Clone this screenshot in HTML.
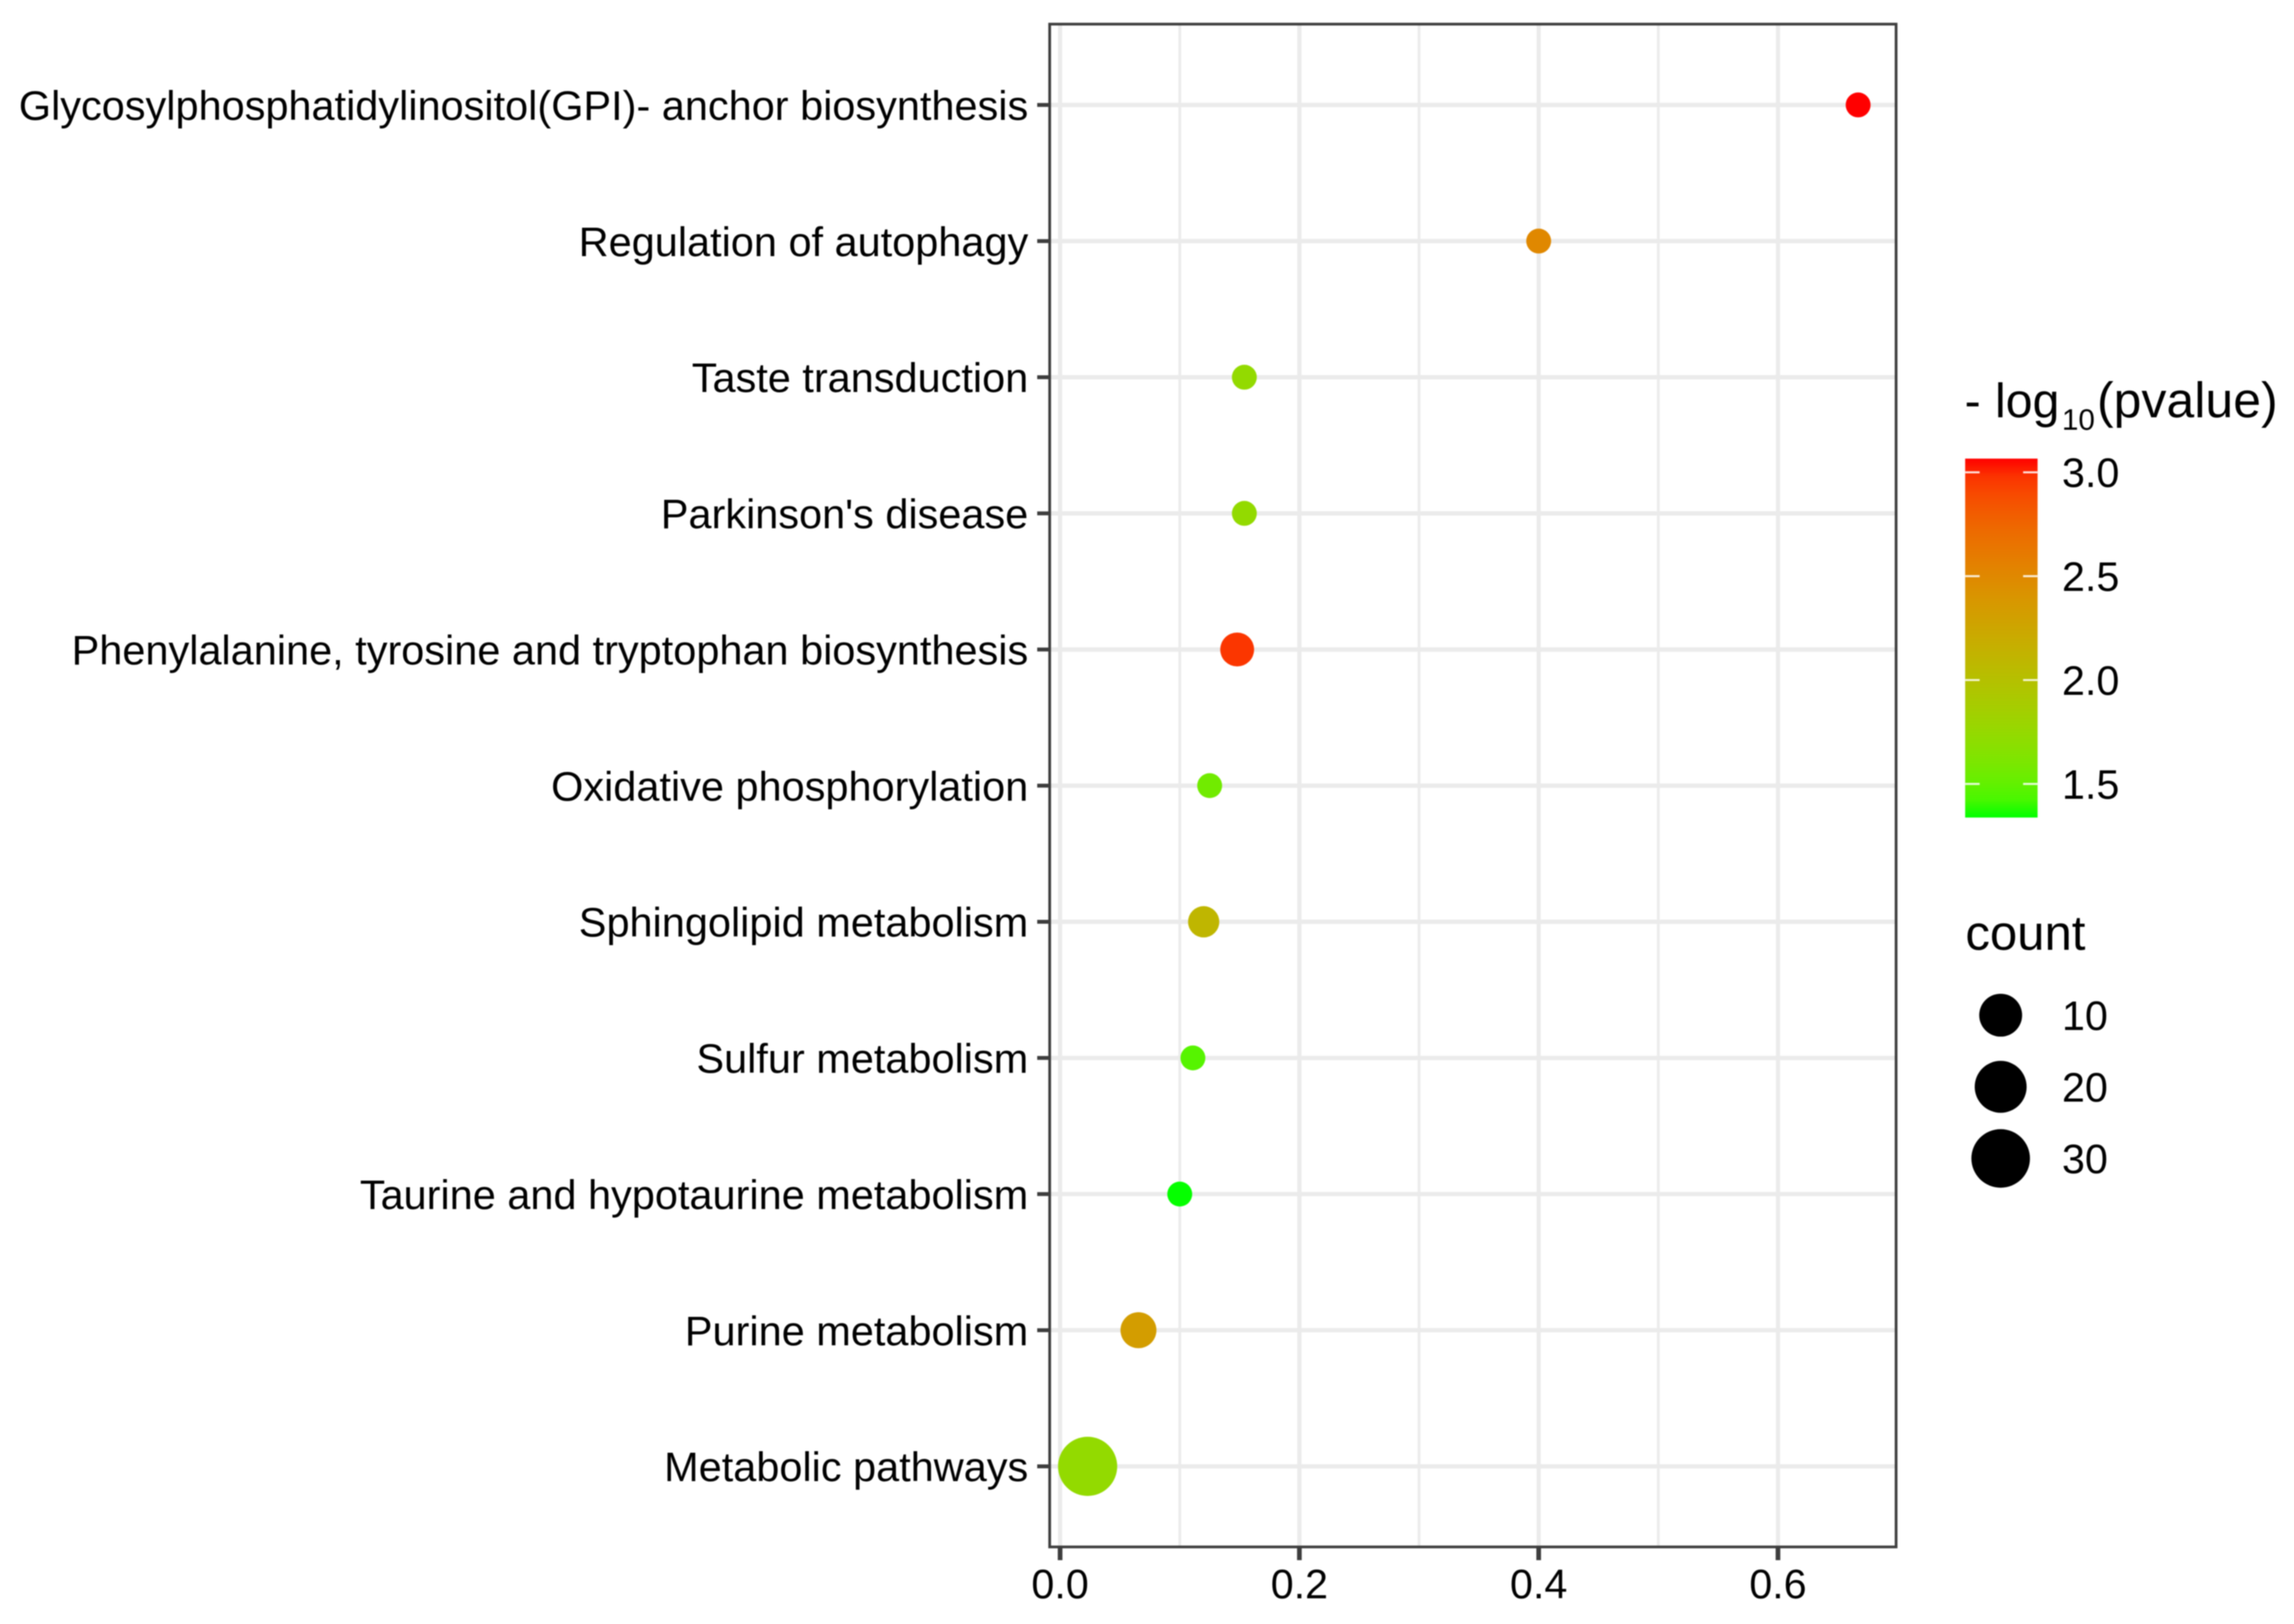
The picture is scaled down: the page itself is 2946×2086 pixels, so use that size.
<!DOCTYPE html>
<html lang="en">
<head>
<meta charset="utf-8">
<title>Pathway enrichment dot plot</title>
<style>
  html, body { margin: 0; padding: 0; background: #fff; }
  svg { display: block; filter: blur(0.7px); }
  text { font-family: "Liberation Sans", Arial, sans-serif; fill: #000; }
</style>
</head>
<body>
<svg id="chart" xmlns="http://www.w3.org/2000/svg" width="2946" height="2086" viewBox="0 0 2946 2086">
  <defs>
    <linearGradient id="cbGrad" x1="0" y1="1" x2="0" y2="0"></linearGradient>
  </defs>
  <rect x="0" y="0" width="2946" height="2086" fill="#ffffff"></rect>
  <g id="grid"></g>
  <g id="ylabels"></g>
  <g id="xlabels"></g>
  <g id="points"></g>
  <rect x="1348" y="31" width="1087" height="1956" fill="none" stroke="#3d3d3d" stroke-width="3.5"></rect>
  <g>
    <text x="2523" y="536" font-size="62">-</text>
    <text x="2562" y="536" font-size="62">log</text>
    <text x="2648" y="552" font-size="38">10</text>
    <text x="2693" y="536" font-size="64" textLength="232" lengthAdjust="spacing">(pvalue)</text>
  </g>
  <g id="colorbar"></g>
  <text x="2524" y="1220" font-size="63">count</text>
  <g id="sizelegend"></g>
</svg>
<script>
const categories = [
  "Glycosylphosphatidylinositol(GPI)- anchor biosynthesis",
  "Regulation of autophagy",
  "Taste transduction",
  "Parkinson's disease",
  "Phenylalanine, tyrosine and tryptophan biosynthesis",
  "Oxidative phosphorylation",
  "Sphingolipid metabolism",
  "Sulfur metabolism",
  "Taurine and hypotaurine metabolism",
  "Purine metabolism",
  "Metabolic pathways"
];
const ratioValues = [0.667, 0.4, 0.154, 0.154, 0.148, 0.125, 0.12, 0.111, 0.1, 0.0655, 0.023];
const countValues = [2, 2, 2, 2, 4, 2, 3, 2, 2, 5, 31];
const pvalueValues = [3.066, 2.5, 1.74, 1.74, 2.97, 1.56, 2.1, 1.46, 1.34, 2.33, 1.74];
const xMajorTicks = [0, 0.2, 0.4, 0.6];
const xMinorTicks = [0.1, 0.3, 0.5];
const xTickLabels = ["0.0", "0.2", "0.4", "0.6"];
const colorTicks = [3.0, 2.5, 2.0, 1.5];
const colorTickLabels = ["3.0", "2.5", "2.0", "1.5"];
const colorLimits = [1.338, 3.066];
const sizeLegendCounts = [10, 20, 30];
const sizeLimits = [2, 31];

const NS = "http://www.w3.org/2000/svg";
const PANEL = { left: 1348, right: 2435, top: 31, bottom: 1987 };

function xScale(v) { return 1361.4 + v * 1536.5; }
function yScale(i) { return 134.8 + i * 174.87; }
function colorAxis(v) { return 606.7 + (3 - v) * 266.8; }
function sizeScale(c) {
  const t = Math.max(0, (c - sizeLimits[0]) / (sizeLimits[1] - sizeLimits[0]));
  return 32 + 44 * Math.sqrt(t);
}

function make(tag, attrs, parent, text) {
  const el = document.createElementNS(NS, tag);
  for (const k in attrs) el.setAttribute(k, attrs[k]);
  if (text !== undefined) el.textContent = text;
  parent.appendChild(el);
  return el;
}

/* Lab interpolation green -> red, as in a ggplot gradient */
function srgbToLinear(c) { c /= 255; return c <= 0.04045 ? c / 12.92 : Math.pow((c + 0.055) / 1.055, 2.4); }
function linearToSrgb(c) {
  const v = c <= 0.0031308 ? 12.92 * c : 1.055 * Math.pow(c, 1 / 2.4) - 0.055;
  return Math.round(Math.min(1, Math.max(0, v)) * 255);
}
const WP = [0.95047, 1, 1.08883];
function rgbToLab(rgb) {
  const r = srgbToLinear(rgb[0]), g = srgbToLinear(rgb[1]), b = srgbToLinear(rgb[2]);
  const xyz = [
    (0.4124564 * r + 0.3575761 * g + 0.1804375 * b) / WP[0],
    (0.2126729 * r + 0.7151522 * g + 0.0721750 * b) / WP[1],
    (0.0193339 * r + 0.1191920 * g + 0.9503041 * b) / WP[2]
  ];
  const f = xyz.map(t => t > 0.008856 ? Math.cbrt(t) : 7.787 * t + 16 / 116);
  return [116 * f[1] - 16, 500 * (f[0] - f[1]), 200 * (f[1] - f[2])];
}
function labToRgb(lab) {
  const fy = (lab[0] + 16) / 116, fx = lab[1] / 500 + fy, fz = fy - lab[2] / 200;
  const inv = t => { const c = t * t * t; return c > 0.008856 ? c : (t - 16 / 116) / 7.787; };
  const X = inv(fx) * WP[0], Y = inv(fy) * WP[1], Z = inv(fz) * WP[2];
  return [
    linearToSrgb(3.2404542 * X - 1.5371385 * Y - 0.4985314 * Z),
    linearToSrgb(-0.969266 * X + 1.8760108 * Y + 0.041556 * Z),
    linearToSrgb(0.0556434 * X - 0.2040259 * Y + 1.0572252 * Z)
  ];
}
const LOW_LAB = rgbToLab([0, 255, 0]);
const HIGH_LAB = rgbToLab([255, 0, 0]);
function colorScale(v) {
  const t = Math.min(1, Math.max(0, (v - colorLimits[0]) / (colorLimits[1] - colorLimits[0])));
  const c = labToRgb(LOW_LAB.map((l, i) => l + (HIGH_LAB[i] - l) * t));
  return "rgb(" + c.join(",") + ")";
}

/* Grid */
const grid = document.getElementById("grid");
xMinorTicks.forEach(function (v) {
  const x = xScale(v);
  const line = make("line", { x1: x, x2: x, y1: PANEL.top, y2: PANEL.bottom, stroke: "#ececec", "stroke-width": 3.6 }, grid);
  
  
});
xMajorTicks.forEach(function (v) {
  const x = xScale(v);
  const line = make("line", { x1: x, x2: x, y1: PANEL.top, y2: PANEL.bottom, stroke: "#ebebeb", "stroke-width": 5.4 }, grid);
  
  
});
categories.forEach(function (name, i) {
  const y = yScale(i);
  const line = make("line", { x1: PANEL.left, x2: PANEL.right, y1: y, y2: y, stroke: "#ebebeb", "stroke-width": 5.6 }, grid);
  
  
});

/* Y axis */
const ylabels = document.getElementById("ylabels");
categories.forEach(function (name, i) {
  const y = yScale(i);
  const tick = make("line", { x1: 1332, x2: PANEL.left, y1: y, y2: y, stroke: "#3d3d3d", "stroke-width": 5 }, ylabels);
  
  
  const label = make("text", { x: 1320.5, y: y + 19.2, "text-anchor": "end", "font-size": 53.25 }, ylabels, name);
  
  
});

/* X axis */
const xlabels = document.getElementById("xlabels");
xMajorTicks.forEach(function (v, i) {
  const x = xScale(v);
  const tick = make("line", { x1: x, x2: x, y1: PANEL.bottom, y2: 2004, stroke: "#3d3d3d", "stroke-width": 6 }, xlabels);
  
  
  const label = make("text", { x: x, y: 2053, "text-anchor": "middle", "font-size": 53 }, xlabels, xTickLabels[i]);
  
  
});

/* Points */
const points = document.getElementById("points");
categories.forEach(function (name, i) {
  const dot = make("circle", {
    cx: xScale(ratioValues[i]),
    cy: yScale(i),
    r: sizeScale(countValues[i]) / 2,
    fill: colorScale(pvalueValues[i])
  }, points);
  
  
});

/* Colour legend */
const grad = document.getElementById("cbGrad");
for (let k = 0; k <= 20; k++) {
  const v = colorLimits[0] + (colorLimits[1] - colorLimits[0]) * k / 20;
  make("stop", { offset: (k * 5) + "%", "stop-color": colorScale(v) }, grad);
}
const colorbar = document.getElementById("colorbar");
const barTop = colorAxis(colorLimits[1]);
const barBottom = colorAxis(colorLimits[0]);
const barRect = make("rect", { x: 2523.7, y: barTop, width: 93, height: barBottom - barTop, fill: "url(#cbGrad)" }, colorbar);


colorTicks.forEach(function (v, i) {
  const y = colorAxis(v);
  const left = make("line", { x1: 2523.7, x2: 2542.3, y1: y, y2: y, stroke: "#ffffff", "stroke-opacity": 0.85, "stroke-width": 2.6 }, colorbar);
  
  
  const right = make("line", { x1: 2598.1, x2: 2616.7, y1: y, y2: y, stroke: "#ffffff", "stroke-opacity": 0.85, "stroke-width": 2.6 }, colorbar);
  
  
  const label = make("text", { x: 2648, y: y + 19, "font-size": 53 }, colorbar, colorTickLabels[i]);
  
  
});

/* Size legend */
const sizelegend = document.getElementById("sizelegend");
sizeLegendCounts.forEach(function (c, i) {
  const y = 1304 + i * 92;
  const key = make("circle", { cx: 2569.3, cy: y, r: sizeScale(c) / 2, fill: "#000000" }, sizelegend);
  
  
  const label = make("text", { x: 2648, y: y + 19, "font-size": 53 }, sizelegend, String(c));
  
  
});
</script>
</body>
</html>
